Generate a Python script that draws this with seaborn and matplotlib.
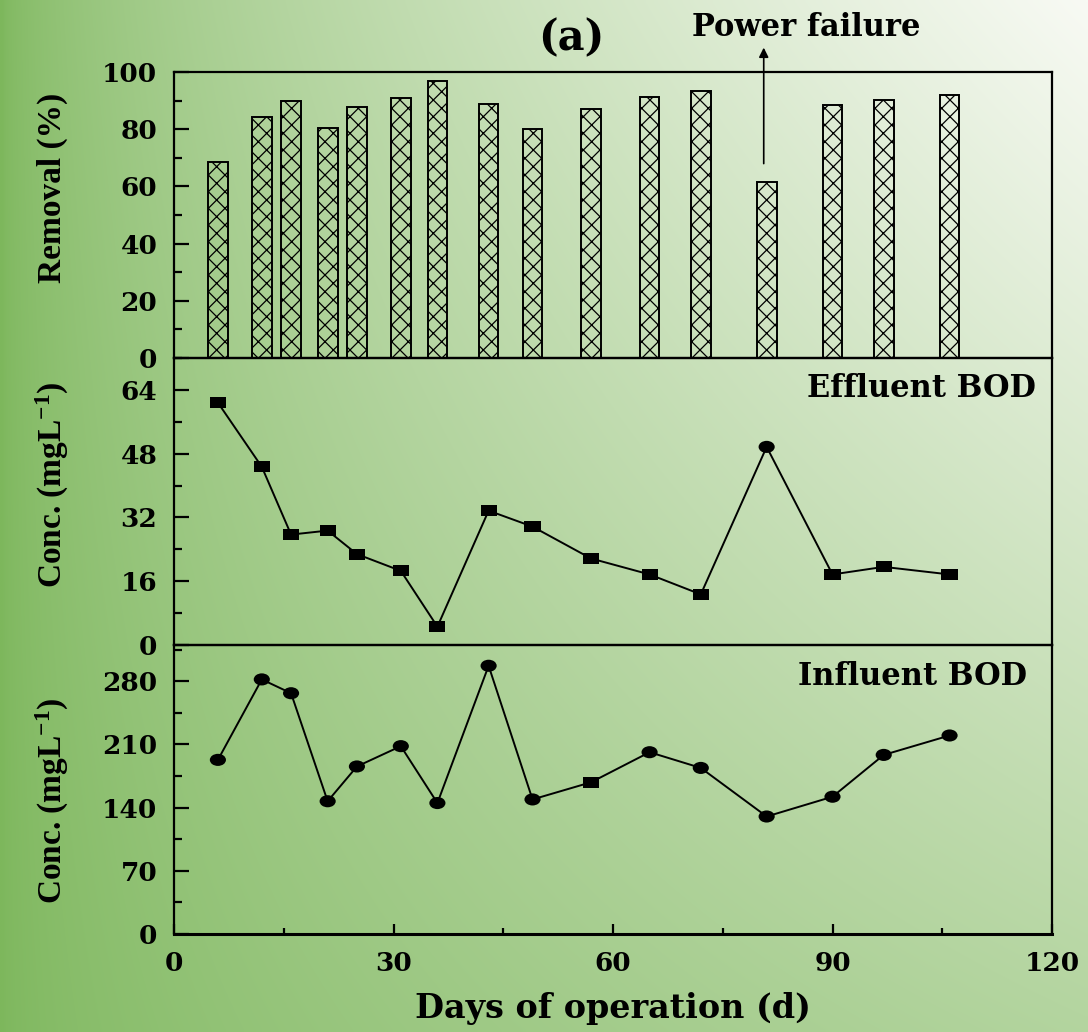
import numpy as np
import pandas as pd
import matplotlib
matplotlib.use("Agg")
import matplotlib.pyplot as plt
import seaborn as sns
from matplotlib.path import Path
from matplotlib.ticker import MultipleLocator

# ---------------- data ----------------
days = [6, 12, 16, 21, 25, 31, 36, 43, 49, 57, 65, 72, 81, 90, 97, 106]
removal = [68.5, 84.3, 89.8, 80.5, 87.8, 91.0, 96.9, 88.8, 80.0,
           87.2, 91.3, 93.2, 61.5, 88.3, 90.2, 92.1]
effluent = [60.8, 44.7, 27.7, 28.7, 22.8, 18.6, 4.6, 33.7, 29.7,
            21.7, 17.7, 12.7, 49.7, 17.7, 19.6, 17.7]
influent = [192.8, 281.9, 266.6, 147.0, 185.5, 208.0, 145.0, 297.0, 149.0,
            168.0, 201.3, 183.9, 130.1, 152.0, 198.3, 219.8]
eff_shape = ["sq"] * 12 + ["ci"] + ["sq"] * 3
inf_shape = ["ci"] * 9 + ["sq"] + ["ci"] * 6
x_ticks = [0, 30, 60, 90, 120]
removal_ticks = [0, 20, 40, 60, 80, 100]
eff_ticks = [0, 16, 32, 48, 64]
inf_ticks = [0, 70, 140, 210, 280]

sns.set_style("ticks")
plt.rcParams["font.family"] = ["DejaVu Serif"]
plt.rcParams["font.weight"] = "bold"
plt.rcParams["text.color"] = "black"
plt.rcParams["axes.labelcolor"] = "black"
plt.rcParams["xtick.color"] = "black"
plt.rcParams["ytick.color"] = "black"
plt.rcParams["hatch.linewidth"] = 0.9
plt.rcParams["mathtext.fontset"] = "custom"
plt.rcParams["mathtext.rm"] = "Liberation Serif:bold"
plt.rcParams["mathtext.bf"] = "Liberation Serif:bold"
plt.rcParams["mathtext.it"] = "Liberation Serif:bold"

fig = plt.figure(figsize=(10.88, 10.32), dpi=100)

# background gradient
bg = fig.add_axes([0, 0, 1, 1], zorder=-10)
H, W = 258, 272
yy, xx = np.mgrid[0:H, 0:W]
xf = xx / (W - 1)
yf = yy / (H - 1)
w = xf ** 0.6 * (1 - 0.56 * yf)
c0 = np.array([125, 183, 92]) / 255
c1 = np.array([248, 250, 244]) / 255
img = c0 + (c1 - c0) * w[..., None]
bg.imshow(img, aspect="auto", extent=[0, 1, 0, 1], interpolation="bilinear")
bg.axis("off")

L, Wd = 174 / 1088, 878 / 1088
ax1 = fig.add_axes([L, 1 - 358 / 1032, Wd, 286 / 1032])
ax2 = fig.add_axes([L, 1 - 645 / 1032, Wd, 287 / 1032])
ax3 = fig.add_axes([L, 1 - 934 / 1032, Wd, 289 / 1032])

rect = Path([(-1, -0.68), (1, -0.68), (1, 0.68), (-1, 0.68), (-1, -0.68)],
            [Path.MOVETO, Path.LINETO, Path.LINETO, Path.LINETO, Path.CLOSEPOLY])
uc = Path.unit_circle()
ell = Path(uc.vertices * np.array([1.0, 0.75]), uc.codes)
marker_map = {"sq": rect, "ci": ell}

# --- top: removal bars
df_r = pd.DataFrame({"day": days, "removal": removal})
sns.barplot(data=df_r, x="day", y="removal", native_scale=True, width=0.675,
            errorbar=None, ax=ax1, color="white")
for p in ax1.patches:
    p.set_facecolor("none")
    p.set_edgecolor("black")
    p.set_hatch("xx")
    p.set_linewidth(1.4)

# --- middle: effluent
df_e = pd.DataFrame({"day": days, "conc": effluent, "shape": eff_shape})
sns.lineplot(data=df_e, x="day", y="conc", color="black", lw=1.4, ax=ax2)
sns.scatterplot(data=df_e, x="day", y="conc", style="shape", markers=marker_map,
                color="black", s=135, linewidth=0, legend=False, ax=ax2, zorder=3)

# --- bottom: influent
df_i = pd.DataFrame({"day": days, "conc": influent, "shape": inf_shape})
sns.lineplot(data=df_i, x="day", y="conc", color="black", lw=1.4, ax=ax3)
sns.scatterplot(data=df_i, x="day", y="conc", style="shape", markers=marker_map,
                color="black", s=135, linewidth=0, legend=False, ax=ax3, zorder=3)

limits = [(0, 100), (0, 72), (0, 320)]
majors = [removal_ticks, eff_ticks, inf_ticks]
minors = [10, 8, 35]
for ax, lim, mj, mn in zip([ax1, ax2, ax3], limits, majors, minors):
    ax.set_facecolor("none")
    ax.set_xlim(0, 120)
    ax.set_ylim(*lim)
    ax.set_yticks(mj)
    ax.yaxis.set_minor_locator(MultipleLocator(mn))
    ax.set_xticks(x_ticks)
    ax.xaxis.set_minor_locator(MultipleLocator(15))
    for s in ax.spines.values():
        s.set_visible(True)
        s.set_linewidth(1.6)
        s.set_color("black")
    ax.tick_params(axis="y", which="major", direction="in", length=11, width=1.6,
                   labelsize=19, pad=12, left=True, right=False, colors="black")
    ax.tick_params(axis="y", which="minor", direction="in", length=6, width=1.6,
                   left=True, right=False)
    ax.set_xlabel("")
    ax.set_ylabel("")
    for t in ax.get_yticklabels():
        t.set_fontweight("bold")

for ax in (ax1, ax2):
    ax.tick_params(axis="x", which="both", bottom=False, top=False, labelbottom=False)

ax3.tick_params(axis="x", which="major", direction="in", length=7, width=1.6,
                labelsize=19, pad=12, top=False, colors="black")
ax3.tick_params(axis="x", which="minor", direction="in", length=4, width=1.6, top=False)
ax3.spines["bottom"].set_linewidth(2.2)

ylab_font = dict(family="Liberation Serif", weight="bold", size=24, color="black")
ax1.set_ylabel("Removal (%)", **ylab_font)
ax2.set_ylabel(r"Conc. (mgL$^{\mathbf{-1}}$)", **ylab_font)
ax3.set_ylabel(r"Conc. (mgL$^{\mathbf{-1}}$)", **ylab_font)
ax1.yaxis.set_label_coords(-0.121, 0.594)
ax2.yaxis.set_label_coords(-0.117, 0.559)
ax3.yaxis.set_label_coords(-0.117, 0.46)

ax3.set_xlabel("Days of operation (d)", fontsize=24, fontweight="bold", labelpad=12,
               color="black")

ax2.text(0.982, 0.895, "Effluent BOD", transform=ax2.transAxes, ha="right",
         va="center", fontsize=22, fontweight="bold", color="black")
ax3.text(0.971, 0.892, "Influent BOD", transform=ax3.transAxes, ha="right",
         va="center", fontsize=22, fontweight="bold", color="black")

ax1.annotate("", xy=(80.6, 109.5), xytext=(80.6, 67),
             arrowprops=dict(arrowstyle="-|>", color="black", lw=1.2,
                             mutation_scale=14), annotation_clip=False)
fig.text(806 / 1088, 1 - 27 / 1032, "Power failure", ha="center", va="center",
         fontsize=22, fontweight="bold", color="black")
fig.text(571 / 1088, 1 - 38 / 1032, "(a)", ha="center", va="center",
         fontsize=30, fontweight="bold", color="black")

fig.savefig("out.png", dpi=100)
